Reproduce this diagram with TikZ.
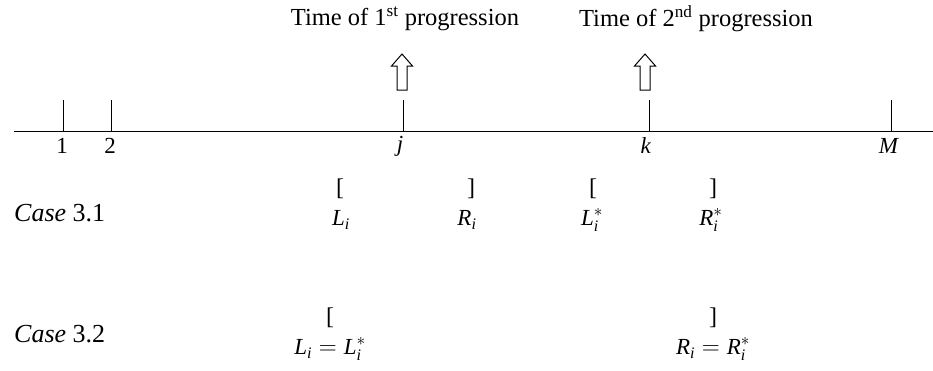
\documentclass[tikz,border=0pt]{standalone}
\usepackage{amsmath}
\usepackage{fontspec}
\setmainfont{Liberation Serif}
\newcommand{\mv}[1]{\textit{#1}}
\begin{document}
\begin{tikzpicture}[x=1pt,y=-1pt,
  lbl/.style={font=\fontsize{23}{26}\selectfont, inner sep=0pt},
  ttl/.style={font=\fontsize{24.5}{28}\selectfont, inner sep=0pt},
  casel/.style={font=\fontsize{26}{29}\selectfont, inner sep=0pt, anchor=west},
  tick/.style={line width=0.8pt},
  axisline/.style={line width=0.8pt},
  uparrow/.style={line width=1pt, line join=miter},
  brk/.style={font=\fontsize{24}{27}\selectfont, inner sep=0pt}]
\useasboundingbox (0,0) rectangle (933,370);
% axis
\coordinate (axL) at (14,131);
\coordinate (axR) at (933,131);
\draw[axisline] (axL) -- (axR);
% ticks
\foreach \n/\x in {t1/63, t2/111, tj/403, tk/649, tM/891}{
  \coordinate (\n top) at (\x,100);
  \coordinate (\n) at (\x,131);
  \draw[tick] (\n top) -- (\n);
}
\node[lbl] (l1) at (62,146) {1};
\node[lbl] (l2) at (110,146) {2};
\node[lbl] (lj) at (400,146) {\mv{j}};
\node[lbl] (lk) at (646,146) {\mv{k}};
\node[lbl] (lM) at (889,146) {\mv{M}};
% hollow up arrows
\foreach \x in {402,645}{
  \draw[uparrow] (\x-5,90) -- (\x-5,66) -- (\x-10.5,66) -- (\x,54) -- (\x+10.5,66)
     -- (\x+5,66) -- (\x+5,90) -- cycle;
}
\node[ttl] (T1) at (405,19) {Time of 1\textsuperscript{st} progression};
\node[ttl] (T2) at (696,19) {Time of 2\textsuperscript{nd} progression};
% Case 3.1
\node[casel] (c1) at (14,213) {\textit{Case} 3.1};
\node[brk] (b1) at (340,189) {[};
\node[brk] (b2) at (471,189) {]};
\node[brk] (b3) at (593,189) {[};
\node[brk] (b4) at (713,189) {]};
\node[lbl] (L1) at (341,220) {$\mv{L}_{\mv{i}}$};
\node[lbl] (R1) at (467,220) {$\mv{R}_{\mv{i}}$};
\node[lbl] (L2) at (592,220) {$\mv{L}_{\mv{i}}^{*}$};
\node[lbl] (R2) at (711,220) {$\mv{R}_{\mv{i}}^{*}$};
% Case 3.2
\node[casel] (c2) at (14,334) {\textit{Case} 3.2};
\node[brk] (b5) at (330,318) {[};
\node[brk] (b6) at (713,318) {]};
\node[lbl] (E1) at (330,349) {$\mv{L}_{\mv{i}} = \mv{L}_{\mv{i}}^{*}$};
\node[lbl] (E2) at (713,349) {$\mv{R}_{\mv{i}} = \mv{R}_{\mv{i}}^{*}$};
\end{tikzpicture}
\end{document}
